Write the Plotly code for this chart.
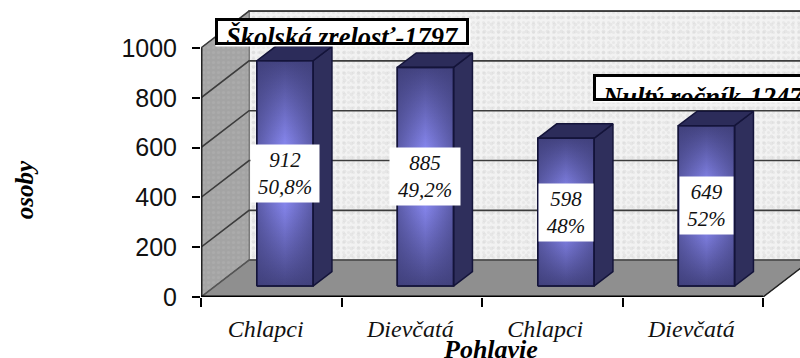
import plotly.graph_objects as go

# Survey counts by sex, grouped by school-readiness group
categories = ["Chlapci", "Dievčatá", "Chlapci", "Dievčatá"]
values = [912, 885, 598, 649]
shares = ["50,8%", "49,2%", "48%", "52%"]
group_labels = ["Školská zrelosť-1797", "Nultý ročník-1247"]
y_ticks = [0, 200, 400, 600, 800, 1000]

SERIF = "Liberation Serif, Times New Roman, serif"
SANS = "Liberation Sans, Arial, sans-serif"

# Plot area in pixels
PLOT_L, PLOT_W = 201, 599
PLOT_H = 296.6

# Oblique projection of the 3D box, in axis units
WALL_DX, WALL_DY = 0.342, 148
BAR_LEFT, BAR_W = 0.397, 0.40
BAR_Z_DY = 44
BAR_DX, BAR_DY = 0.135, 58
BAR_SCALE = 0.992
X_END = 4.0
X_MAX = PLOT_W / 140.5
Y_MAX = PLOT_H / 0.2487


def px(x):
    return (x - PLOT_L) / PLOT_W


def py(y):
    return (PLOT_H - y) / PLOT_H


def poly(xs, ys, **kw):
    return go.Scatter(x=xs + xs[:1], y=ys + ys[:1], mode="lines", fill="toself",
                      hoverinfo="skip", showlegend=False, **kw)


def seg(xs, ys, color, width):
    return go.Scatter(x=xs, y=ys, mode="lines", line=dict(color=color, width=width),
                      hoverinfo="skip", showlegend=False)


fig = go.Figure()

# back wall with speckled plaster texture: two overlaid dot grids of different pitch
wall_x = [WALL_DX, X_END + WALL_DX, X_END + WALL_DX, WALL_DX]
wall_y = [WALL_DY, WALL_DY, 1000 + WALL_DY, 1000 + WALL_DY]
fig.add_trace(poly(wall_x, wall_y, line=dict(color="#777777", width=1.5), fillcolor="#efefef",
                   fillpattern=dict(shape=".", size=5, solidity=0.3, fgcolor="#dedede", bgcolor="#f2f2f2")))
fig.add_trace(poly(wall_x, wall_y, line=dict(color="#777777", width=1.5), fillcolor="rgba(0,0,0,0)",
                   fillpattern=dict(shape=".", size=7, solidity=0.25, fgcolor="rgba(205,205,205,0.7)",
                                    bgcolor="rgba(255,255,255,0)")))

# side wall
side_x = [0, WALL_DX, WALL_DX, 0]
side_y = [0, WALL_DY, 1000 + WALL_DY, 1000]
fig.add_trace(poly(side_x, side_y, line=dict(color="#777777", width=1), fillcolor="#aaaaaa",
                   fillpattern=dict(shape=".", size=5, solidity=0.3, fgcolor="#b2b2b2", bgcolor="#a4a4a4")))

# floor
fig.add_trace(poly([0, X_END, X_END + WALL_DX, WALL_DX], [0, 0, WALL_DY, WALL_DY],
                   line=dict(color="#555555", width=1), fillcolor="#8f8f8f"))

# grid lines run along the side wall, then across the back wall
for t in y_ticks:
    fig.add_trace(seg([0, WALL_DX, X_END + WALL_DX], [t, t + WALL_DY, t + WALL_DY],
                      "#3c3c3c" if t else "#555555", 1.6))

# front edges of the box
fig.add_trace(seg([0, 0], [0, 1000], "#222222", 3))
fig.add_trace(seg([0, X_END], [0, 0], "#000000", 3))
fig.add_trace(seg([X_END, X_END + WALL_DX], [0, WALL_DY], "#222222", 1.5))

# bars
OUTLINE = dict(color="#14143a", width=1.5)
for i, v in enumerate(values):
    x0 = i + BAR_LEFT
    x1 = x0 + BAR_W
    y0 = BAR_Z_DY
    y1 = BAR_Z_DY + v * BAR_SCALE
    fig.add_trace(poly([x1, x1 + BAR_DX, x1 + BAR_DX, x1], [y0, y0 + BAR_DY, y1 + BAR_DY, y1],
                       line=OUTLINE, fillcolor="#2f2f5c"))
    fig.add_trace(poly([x0, x1, x1 + BAR_DX, x0 + BAR_DX], [y1, y1, y1 + BAR_DY, y1 + BAR_DY],
                       line=OUTLINE, fillcolor="#2c2c5a"))
    fig.add_trace(poly([x0, x1, x1, x0], [y0, y0, y1, y1], line=OUTLINE,
                       fillgradient=dict(type="vertical",
                                         colorscale=[[0, "#444482"], [0.36, "#8484ea"], [0.64, "#8484ea"],
                                                     [1, "#444482"]])))
    fig.add_trace(poly([x0, x1, x1, x0], [y0, y0, y1, y1], line=OUTLINE,
                       fillgradient=dict(type="horizontal",
                                         colorscale=[[0, "rgba(62,62,120,0.6)"], [0.5, "rgba(62,62,120,0)"],
                                                     [1, "rgba(62,62,120,0.6)"]])))

# value labels sit at mid-height of each bar
box_w = [66, 68, 52, 51]
for i, v in enumerate(values):
    fig.add_annotation(x=i + BAR_LEFT + BAR_W / 2, y=BAR_Z_DY + v * BAR_SCALE / 2, xref="x", yref="y",
                       text=f"{v}<br>{shares[i]}", showarrow=False, width=box_w[i], height=55,
                       bgcolor="#ffffff", borderpad=1, align="center", valign="middle",
                       font=dict(family=SERIF, size=21, style="italic", color="#111111"))

CAPTION_FONT = dict(family=SERIF, size=26.5, style="italic", weight="bold", color="#000000")

# caption frames: white card, then text cut by its own clip box, then the outline on top
frames = [(215, 18, 254, 27), (593, 74, 240, 27)]
caption_text = [(225, 21, 22), (601, 81, 18)]
for label, (fx, fy, fw, fh), (tx, ty, th) in zip(group_labels, frames, caption_text):
    fig.add_annotation(x=px(fx), y=py(fy), xref="paper", yref="paper", xanchor="left", yanchor="top",
                       text="&nbsp;", showarrow=False, width=fw, height=fh, bgcolor="#ffffff", borderpad=0,
                       font=dict(size=10))
    fig.add_annotation(x=px(tx), y=py(ty), xref="paper", yref="paper", xanchor="left", yanchor="top",
                       text=label, showarrow=False, borderpad=0, align="left", valign="top", height=th,
                       font=CAPTION_FONT)
    fig.add_annotation(x=px(fx), y=py(fy), xref="paper", yref="paper", xanchor="left", yanchor="top",
                       text="&nbsp;", showarrow=False, width=fw - 6, height=fh - 6, borderwidth=3, borderpad=0,
                       bordercolor="#000000", font=dict(size=10))

# axis titles
fig.add_annotation(x=px(24), y=py(190), xref="paper", yref="paper", xanchor="center", yanchor="middle",
                   text="osoby", textangle=-90, showarrow=False,
                   font=dict(family=SERIF, size=25, style="italic", weight="bold", color="#000000"))
fig.add_annotation(x=px(490), y=py(349), xref="paper", yref="paper", xanchor="center", yanchor="middle",
                   text="Pohlavie", showarrow=False,
                   font=dict(family=SERIF, size=26, style="italic", weight="bold", color="#000000"))

fig.update_layout(
    width=800, height=358, margin=dict(l=PLOT_L, r=0, t=0, b=358 - PLOT_H),
    paper_bgcolor="#ffffff", plot_bgcolor="#ffffff", showlegend=False, hovermode=False,
    xaxis=dict(range=[0, X_MAX], tickmode="array", tickvals=[0.46, 1.49, 2.45, 3.49], ticktext=categories,
               ticks="", showgrid=False, zeroline=False, showline=False, ticklabelstandoff=15,
               tickfont=dict(family=SERIF, size=24, style="italic", color="#111111"),
               minor=dict(tickmode="array", tickvals=list(range(5)), ticks="outside", ticklen=9, tickwidth=1.5,
                          tickcolor="#000000", showgrid=False)),
    yaxis=dict(range=[0, Y_MAX], tickmode="array", tickvals=y_ticks, ticks="outside", ticklen=8, tickwidth=1.5,
               tickcolor="#000000", showgrid=False, zeroline=False, showline=False, ticklabelstandoff=10,
               tickfont=dict(family=SANS, size=25, color="#111111")),
)

fig.write_html("out.html")
